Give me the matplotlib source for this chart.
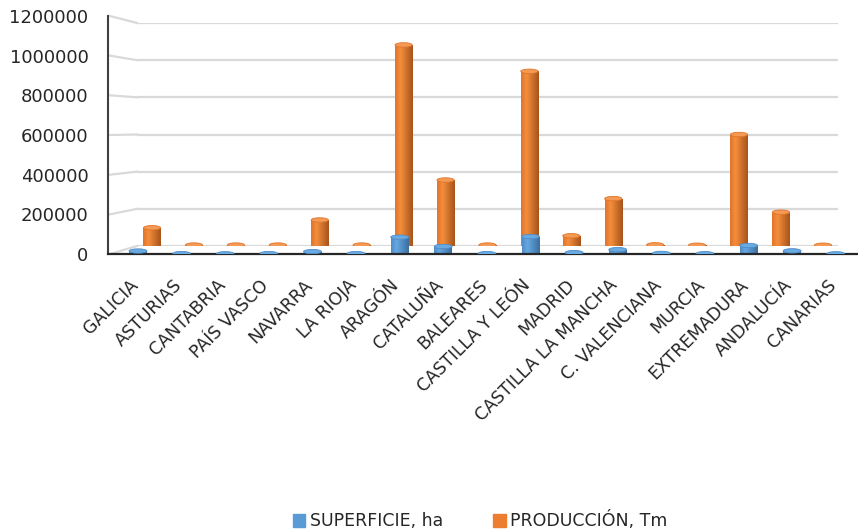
import numpy as np
import matplotlib.pyplot as plt
from matplotlib.patches import Ellipse, Patch
from matplotlib.lines import Line2D
from matplotlib.colors import LinearSegmentedColormap
from matplotlib.transforms import ScaledTranslation

regiones = ["GALICIA", "ASTURIAS", "CANTABRIA", "PAÍS VASCO", "NAVARRA", "LA RIOJA",
            "ARAGÓN", "CATALUÑA", "BALEARES", "CASTILLA Y LEÓN", "MADRID",
            "CASTILLA LA MANCHA", "C. VALENCIANA", "MURCIA", "EXTREMADURA",
            "ANDALUCÍA", "CANARIAS"]
superficie = [15000, 2000, 1000, 2000, 12000, 2000, 85000, 38000, 2000, 88000, 7000,
              22000, 3000, 1500, 43000, 16000, 1000]
produccion = [98000, 5000, 5000, 5000, 140000, 5000, 1082000, 355000, 5000, 940000,
              55000, 255000, 6000, 4000, 600000, 182000, 4000]
y_ticks = [0, 200000, 400000, 600000, 800000, 1000000, 1200000]
series = ["SUPERFICIE, ha", "PRODUCCIÓN, Tm"]

plt.rcParams['font.family'] = 'DejaVu Sans'
plt.rcParams['font.size'] = 12.5
txt = '#262626'

W, H = 858, 529
fig = plt.figure(figsize=(W / 100, H / 100), dpi=100)


def px_axes(left, right, top, bottom):
    return fig.add_axes([left / W, 1 - bottom / H, (right - left) / W, (bottom - top) / H])


# back wall (gridlines + production) and front plane (surface + axes)
ax_b = px_axes(137, 838, 23, 246)
ax_f = px_axes(108, 858, 16, 254)
ax_f.patch.set_alpha(0)

x = np.arange(len(regiones))


def cylinders(ax, values, width, cols, lid, ell_h):
    cmap = LinearSegmentedColormap.from_list('cyl', [(0, cols[0]), (0.3, cols[1]), (1, cols[2])])
    grad = np.linspace(0, 1, 64)[None, :]
    bars = ax.bar(x, values, width, color='none', edgecolor='none')
    for rect in bars:
        x0, w, h = rect.get_x(), rect.get_width(), rect.get_height()
        cx = x0 + w / 2
        base = Ellipse((cx, 0), w, ell_h, transform=ax.transData)
        for clip in (rect, base):
            im = ax.imshow(grad, extent=(x0, x0 + w, -ell_h, h), cmap=cmap,
                           aspect='auto', interpolation='bicubic', zorder=2)
            im.set_clip_path(clip)
        ax.add_patch(Ellipse((cx, h), w, ell_h, facecolor=lid, edgecolor=cols[0],
                             lw=0.6, zorder=3))


cylinders(ax_b, produccion, 0.41, ['#E0742A', '#F68F3C', '#A6531B'], '#F59A55', 24000)
cylinders(ax_f, superficie, 0.41, ['#4F8CC6', '#66A8E3', '#3B6E9E'], '#6AAAE2', 22000)

for ax, lims in ((ax_b, (-0.358, 16.36)), (ax_f, (-0.688, 16.51))):
    ax.set_xlim(*lims)
    ax.set_ylim(0, 1200000)
    ax.set_yticks(y_ticks)

# back wall gridlines
for v in y_ticks:
    ax_b.axhline(v, color='#D9D9D9', lw=1.6, zorder=1)
ax_b.axis('off')

# side wall lines joining front axis to back wall
for v in y_ticks:
    p0 = ax_f.transData.transform((ax_f.get_xlim()[0], v))
    p1 = ax_b.transData.transform((ax_b.get_xlim()[0], v))
    fig.add_artist(Line2D([p0[0] + 2, p1[0]], [p0[1], p1[1]], transform=None,
                          color='#D9D9D9', lw=1.6, zorder=0))

for s in ('top', 'right'):
    ax_f.spines[s].set_visible(False)
ax_f.spines['left'].set_color('#404040')
ax_f.spines['bottom'].set_color('#262626')
ax_f.spines['left'].set_linewidth(1.5)
ax_f.spines['bottom'].set_linewidth(1.6)
ax_f.tick_params(axis='both', length=0, colors=txt)
ax_f.tick_params(axis='y', pad=14, labelsize=13)
ax_f.tick_params(axis='x', pad=16)
ax_f.set_yticklabels([str(v) for v in y_ticks])
ax_f.set_xticks(x)
ax_f.set_xticklabels(regiones, rotation=45, ha='right', rotation_mode='anchor')
shift = ScaledTranslation(-9 / 100, 0, fig.dpi_scale_trans)
for lab in ax_f.get_xticklabels():
    lab.set_transform(lab.get_transform() + shift)

handles = [Patch(color='#5B9BD5'), Patch(color='#ED7D31')]
fig.legend(handles, series, loc='center', bbox_to_anchor=(480 / W, 1 - 521 / H),
           ncol=2, frameon=False, handlelength=0.72, handleheight=0.72,
           handletextpad=0.25, columnspacing=2.9, labelcolor=txt)

fig.savefig('out.png', dpi=100)
